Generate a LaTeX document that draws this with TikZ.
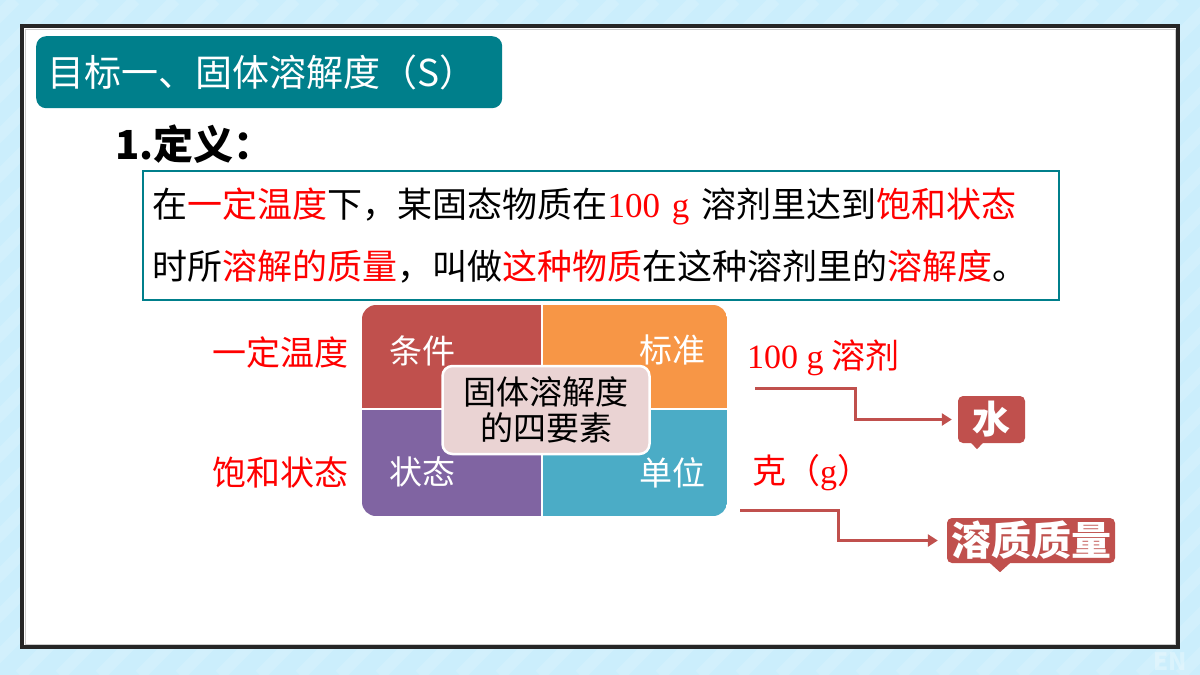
\documentclass[tikz,border=0pt]{standalone}
\usepackage{fontspec}
\setmainfont{Noto Sans CJK SC}
\newfontfamily\numfont{Liberation Serif}
\usepackage{xcolor}
\usetikzlibrary{positioning, arrows.meta, calc}

\definecolor{bgblue}{HTML}{CBEEFC}
\definecolor{tealbar}{HTML}{007F8B}
\definecolor{quadred}{HTML}{C0504D}
\definecolor{quadorange}{HTML}{F79646}
\definecolor{quadpurple}{HTML}{8064A2}
\definecolor{quadblue}{HTML}{4BACC6}
\definecolor{centerpink}{HTML}{EAD3D3}
\definecolor{linkred}{HTML}{C0504D}

\newcommand{\fsz}[1]{\fontsize{#1}{#1}\selectfont}

\begin{document}
\begin{tikzpicture}[x=1pt, y=-1pt,
    quadlabel/.style={text=white, font=\fsz{33}, inner sep=0pt},
    sidelabel/.style={text=red, font=\fsz{34}, inner sep=0pt},
    tag/.style={fill=linkred, text=white, font=\bfseries\fsz{#1}, rounded corners=5pt, inner sep=0pt},
    link/.style={draw=linkred, line width=3pt, -{Triangle[length=10pt,width=12pt]}},
    ]
\useasboundingbox (0,0) rectangle (1200,675);

% Background and frame
\fill[bgblue] (0,0) rectangle (1200,675);
\begin{scope}
  \clip (0,0) rectangle (1200,675);
  \foreach \i in {-700,-660,...,1200}
    \draw[white, opacity=0.15, line width=12pt] (\i,675) -- ++(675,-675);
\end{scope}
\node[text=white, opacity=0.3, font=\bfseries\fsz{24}, inner sep=0pt] (wm) at (1170,662) {EN};
\draw[line width=4pt, black!85, fill=white] (22,26) rectangle (1178,647);
\draw[gray!40, line width=1pt] (25,29) rectangle (1175,644);

% Title bar
\node[fill=tealbar, rounded corners=10pt, text=white, font=\fsz{37},
      minimum width=466pt, minimum height=72pt, text width=444pt, align=left,
      inner xsep=11pt, anchor=north west] (title) at (36,36) {目标一、固体溶解度（S）};

\node[font=\bfseries\fsz{40}, inner sep=0pt, anchor=west] (defhead) at (115,144) {1.定义：};

% Definition
\node[draw=tealbar, line width=1.5pt, minimum width=916pt, minimum height=129pt,
      text width=896pt, align=left, inner xsep=10pt, anchor=north west,
      font=\fontsize{35}{62}\selectfont] (defbox) at (142,170)
  {在{\color{red}一定温度}下，某固态物质在{\color{red}\numfont 100 g} 溶剂里达到{\color{red}饱和状态}\\
   时所{\color{red}溶解的质量}，叫做{\color{red}这种物质}在这种溶剂里的{\color{red}溶解度}。};

% Four elements
\begin{scope}
  \clip[rounded corners=14pt] (362,305) rectangle (727,516);
  \fill[quadred] (362,305) rectangle (541,408);
  \fill[quadorange] (543,305) rectangle (727,408);
  \fill[quadpurple] (362,410) rectangle (541,516);
  \fill[quadblue] (543,410) rectangle (727,516);
\end{scope}
\node[quadlabel] (cond) at (422,351) {条件};
\node[quadlabel] (stdd) at (672,350) {标准};
\node[quadlabel] (state) at (422,472) {状态};
\node[quadlabel] (unit) at (672,473) {单位};
\node[fill=centerpink, draw=white, line width=2.5pt, rounded corners=10pt,
      minimum width=207pt, minimum height=88pt, inner sep=0pt, align=center,
      font=\fontsize{33}{36}\selectfont] (core) at (546,410) {固体溶解度\\的四要素};

\node[sidelabel] (temp) at (280,353) {一定温度};
\node[sidelabel] (satur) at (280,472) {饱和状态};
\node[sidelabel, anchor=west] (solv) at (747,358) {{\numfont 100 g} 溶剂};
\node[sidelabel, anchor=west] (gram) at (752,473) {克（{\numfont g}）};

% Answers
\node[tag=38, minimum width=67pt, minimum height=47pt] (water) at (991.5,419.5) {水};
\fill[linkred] ($(water.south)+(-21,-1)$) -- ($(water.south)+(-8,-1)$) -- ($(water.south)+(-14.5,6)$) -- cycle;
\node[tag=40, minimum width=168pt, minimum height=45pt] (solute) at (1031,540.5) {溶质质量};
\fill[linkred] ($(solute.south)+(-42,-1)$) -- ($(solute.south)+(-20,-1)$) -- ($(solute.south)+(-31,9)$) -- cycle;

\coordinate (solvEnd) at (755,388);
\coordinate (gramEnd) at (740,510);
\draw[link, shorten >=6pt] (solvEnd) -- ++(100,0) |- (water.west);
\draw[link, shorten >=9pt] (gramEnd) -- ++(98,0) |- (solute.west);

\end{tikzpicture}
\end{document}
